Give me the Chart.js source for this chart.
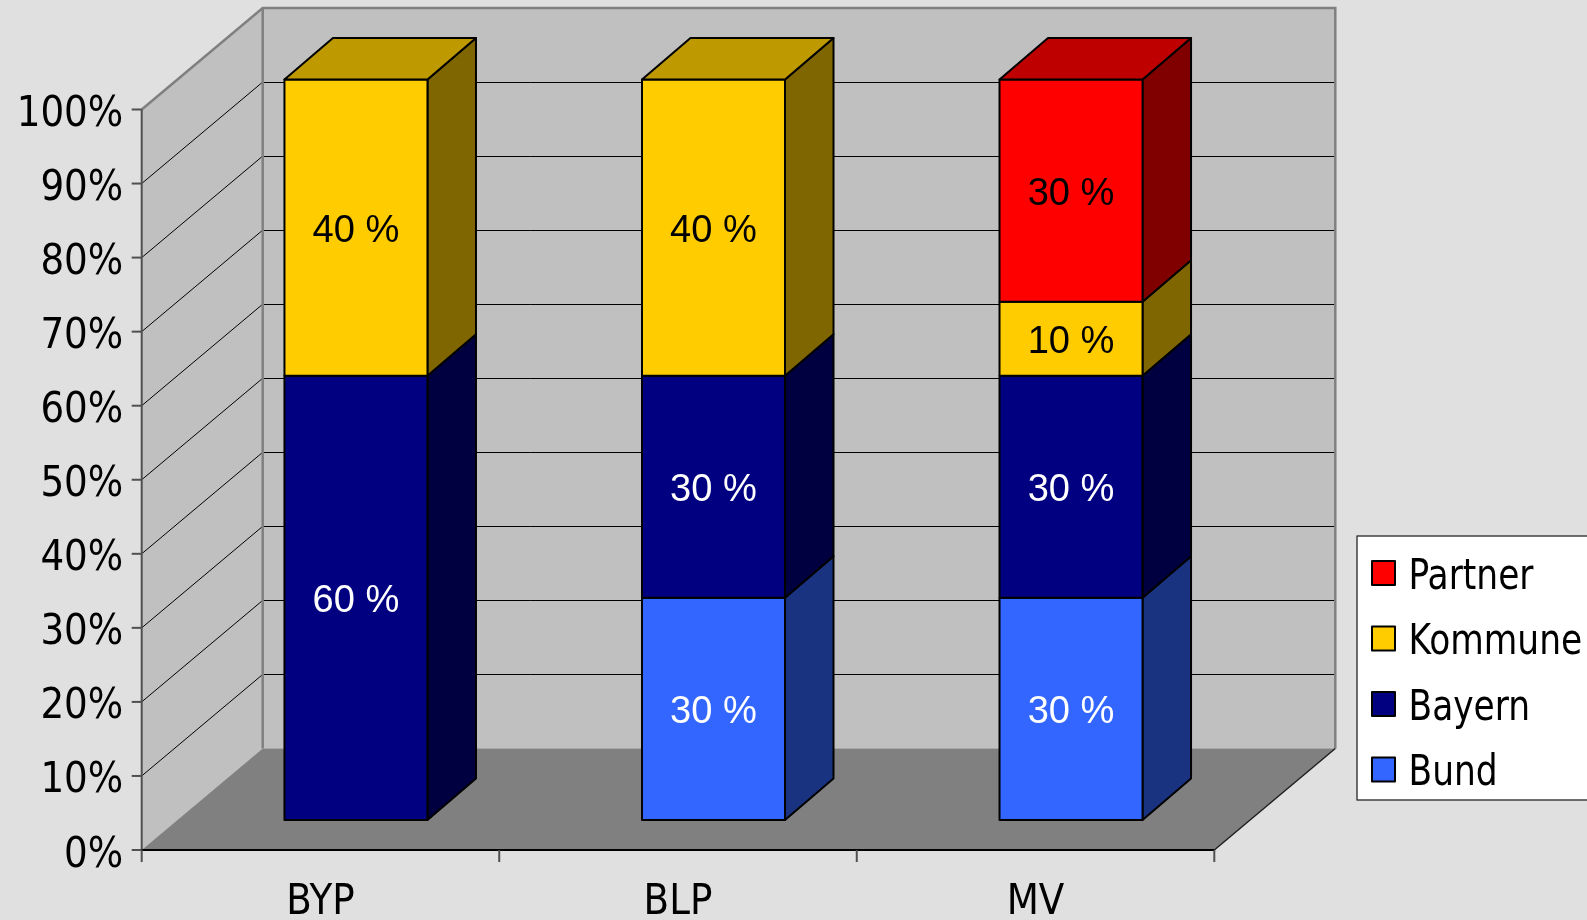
<!DOCTYPE html>
<html>
<head>
<meta charset="utf-8">
<script src="https://cdn.jsdelivr.net/npm/chart.js@4/dist/chart.umd.min.js"></script>
<style>
  html, body { margin: 0; padding: 0; background: #E0E0E0; }
  canvas { display: block; }
</style>
</head>
<body>
<canvas id="chart" width="1587" height="920"></canvas>
<script>
// data
var categories = ['BYP', 'BLP', 'MV'];
var bund = [0, 30, 30];
var bayern = [60, 30, 30];
var kommune = [40, 40, 10];
var partner = [0, 0, 30];
var seriesNames = ['Bund', 'Bayern', 'Kommune', 'Partner'];
var yTickValues = [0, 10, 20, 30, 40, 50, 60, 70, 80, 90, 100];

// colours: front, side, top, label
var FACE = {
	Bund: ['#3366FF', '#1A3380', '#264DBF', '#FFFFFF'],
	Bayern: ['#000080', '#000040', '#000060', '#FFFFFF'],
	Kommune: ['#FFCC00', '#806600', '#BF9900', '#000000'],
	Partner: ['#FF0000', '#800000', '#BF0000', '#000000'],
};

// 3d offsets (px), chart plane = front face of bars
const FX = -35.5, FY = 30;     // front edge of walls, relative to bar front
const WX = 121, WY = -101.5;   // full wall depth
const BX = 48.5, BY = -41.5;   // bar depth

const AXIS_FONT = '"DejaVu Sans Condensed", "DejaVu Sans", sans-serif';
const LABEL_FONT = '"Liberation Sans", Arial, sans-serif';

function fitScale(ctx, font, sample, width) {
	ctx.save();
	ctx.font = font;
	var w = ctx.measureText(sample).width;
	ctx.restore();
	return w > 0 ? width / w : 1;
}

function drawText(ctx, text, x, y, font, sx, align, color) {
	ctx.save();
	ctx.translate(x, y);
	ctx.scale(sx, 1);
	ctx.font = font;
	ctx.textAlign = align;
	ctx.textBaseline = 'alphabetic';
	ctx.fillStyle = color;
	ctx.fillText(text, 0, 0);
	ctx.restore();
}

function poly(ctx, pts, fill, stroke, lw) {
	ctx.beginPath();
	ctx.moveTo(pts[0][0], pts[0][1]);
	for (let i = 1; i < pts.length; i++) ctx.lineTo(pts[i][0], pts[i][1]);
	ctx.closePath();
	if (fill) { ctx.fillStyle = fill; ctx.fill(); }
	if (stroke) { ctx.strokeStyle = stroke; ctx.lineWidth = lw; ctx.stroke(); }
}

function line(ctx, x1, y1, x2, y2, color, lw) {
	ctx.beginPath();
	ctx.moveTo(x1, y1);
	ctx.lineTo(x2, y2);
	ctx.strokeStyle = color;
	ctx.lineWidth = lw;
	ctx.stroke();
}

const excel3d = {
	id: 'excel3d',
	beforeDraw(chart) {
		const {ctx, chartArea: ca, scales: {x: xs, y: ys}} = chart;
		const L0 = ca.left + FX, R0 = ca.right + FX;
		const yF = (v) => ys.getPixelForValue(v) + FY;
		const y0 = yF(0), y100 = yF(100);

		ctx.save();
		ctx.fillStyle = '#E0E0E0';
		ctx.fillRect(0, 0, chart.width, chart.height);

		// back wall, side wall, floor
		poly(ctx, [[L0 + WX, y100 + WY], [R0 + WX, y100 + WY], [R0 + WX, y0 + WY], [L0 + WX, y0 + WY]], '#C0C0C0');
		poly(ctx, [[L0, y0], [L0, y100], [L0 + WX, y100 + WY], [L0 + WX, y0 + WY]], '#C0C0C0');
		poly(ctx, [[L0, y0], [R0, y0], [R0 + WX, y0 + WY], [L0 + WX, y0 + WY]], '#808080');

		// gridlines
		yTickValues.forEach((v) => {
			if (v === 0 || v === 100) return;
			const yy = Math.round(yF(v) + WY) + 0.5;
			line(ctx, L0 + WX, yy, R0 + WX, yy, '#000000', 1);
			line(ctx, L0, yF(v), L0 + WX, yF(v) + WY, '#000000', 1);
		});

		// wall edges
		ctx.lineJoin = 'miter';
		line(ctx, L0 + WX, y0 + WY, L0 + WX, y100 + WY, '#808080', 2.5);
		ctx.beginPath();
		ctx.moveTo(L0, y100);
		ctx.lineTo(L0 + WX, y100 + WY);
		ctx.lineTo(R0 + WX, y100 + WY);
		ctx.lineTo(R0 + WX, y0 + WY);
		ctx.strokeStyle = '#808080';
		ctx.lineWidth = 2.5;
		ctx.stroke();
		line(ctx, R0, y0, R0 + WX, y0 + WY, '#202020', 1.5);

		// value axis
		line(ctx, L0, y0, L0, y100, '#505050', 2);
		const axisFont = '43.5px ' + AXIS_FONT;
		const sx = fitScale(ctx, axisFont, '100%', 106.5);
		yTickValues.forEach((v) => {
			const yy = yF(v);
			line(ctx, L0 - 10, yy, L0, yy, '#505050', 2);
			drawText(ctx, v + '%', L0 - 18.5, yy + 16.5, axisFont, sx, 'right', '#000000');
		});

		// category axis
		line(ctx, L0, y0, R0, y0, '#000000', 2);
		const half = (ca.right - ca.left) / categories.length / 2;
		categories.forEach((c, i) => {
			const cx = xs.getPixelForValue(i) + FX;
			line(ctx, cx - half, y0, cx - half, y0 + 12, '#505050', 2);
			if (i === categories.length - 1) line(ctx, cx + half, y0, cx + half, y0 + 12, '#505050', 2);
			drawText(ctx, c, cx, y0 + 64, axisFont, sx, 'center', '#000000');
		});
		ctx.restore();
	},
	beforeDatasetsDraw() {
		return false;
	},
	afterDraw(chart) {
		const ctx = chart.ctx;
		const datasets = chart.data.datasets;
		ctx.save();
		ctx.lineJoin = 'round';

		const labelFont = '38.5px ' + LABEL_FONT;
		const lsx = fitScale(ctx, labelFont, '40 %', 86.8);

		categories.forEach((c, i) => {
			const segs = [];
			datasets.forEach((ds, d) => {
				if (!ds.data[i]) return;
				const el = chart.getDatasetMeta(d).data[i];
				segs.push({el: el, col: FACE[ds.label], value: ds.data[i]});
			});
			segs.forEach((s, k) => {
				const el = s.el;
				const l = el.x - el.width / 2, r = el.x + el.width / 2;
				const t = Math.min(el.y, el.base), b = Math.max(el.y, el.base);
				poly(ctx, [[r, b], [r + BX, b + BY], [r + BX, t + BY], [r, t]], s.col[1], '#000000', 2);
				poly(ctx, [[l, t], [r, t], [r, b], [l, b]], s.col[0], '#000000', 2);
				if (k === segs.length - 1) {
					poly(ctx, [[l, t], [l + BX, t + BY], [r + BX, t + BY], [r, t]], s.col[2], '#000000', 2);
				}
			});
			segs.forEach((s) => {
				const el = s.el;
				const cy = (el.y + el.base) / 2;
				drawText(ctx, s.value + ' %', el.x, cy + 14, labelFont, lsx, 'center', s.col[3]);
			});
		});

		// legend (reverse order, like the original)
		const lx = 1357, ly = 536, lh = 264;
		ctx.fillStyle = '#FFFFFF';
		ctx.fillRect(lx, ly, chart.width - lx + 5, lh);
		ctx.strokeStyle = '#404040';
		ctx.lineWidth = 1.5;
		ctx.strokeRect(lx, ly, chart.width - lx + 5, lh);
		const legFont = '43.5px ' + AXIS_FONT;
		const gsx = fitScale(ctx, legFont, 'Partner', 125);
		const order = datasets.slice().reverse();
		order.forEach((ds, k) => {
			const ry = 561 + k * 65.5;
			ctx.fillStyle = FACE[ds.label][0];
			ctx.fillRect(1372, ry, 23, 24);
			ctx.strokeStyle = '#000000';
			ctx.lineWidth = 2;
			ctx.strokeRect(1372, ry, 23, 24);
			drawText(ctx, ds.label, 1408.5, ry + 27.5, legFont, gsx, 'left', '#000000');
		});
		ctx.restore();
	}
};

const seriesData = [bund, bayern, kommune, partner];
const ctx = document.getElementById('chart').getContext('2d');
const chart = new Chart(ctx, {
	type: 'bar',
	data: {
		labels: categories,
		datasets: seriesNames.map((name, i) => ({
			label: name,
			data: seriesData[i],
			backgroundColor: FACE[name][0],
			borderColor: '#000000',
			borderWidth: 2,
			barPercentage: 0.4,
			categoryPercentage: 1.0,
		})),
	},
	options: {
		responsive: false,
		animation: false,
		layout: {
			padding: {left: 177.2, right: 337.2, top: 79.5, bottom: 100},
		},
		scales: {
			x: {stacked: true, display: false},
			y: {stacked: true, display: false, min: 0, max: 100},
		},
		plugins: {
			legend: {display: false},
			tooltip: {enabled: false},
		},
	},
	plugins: [excel3d],
});
</script>
</body>
</html>
